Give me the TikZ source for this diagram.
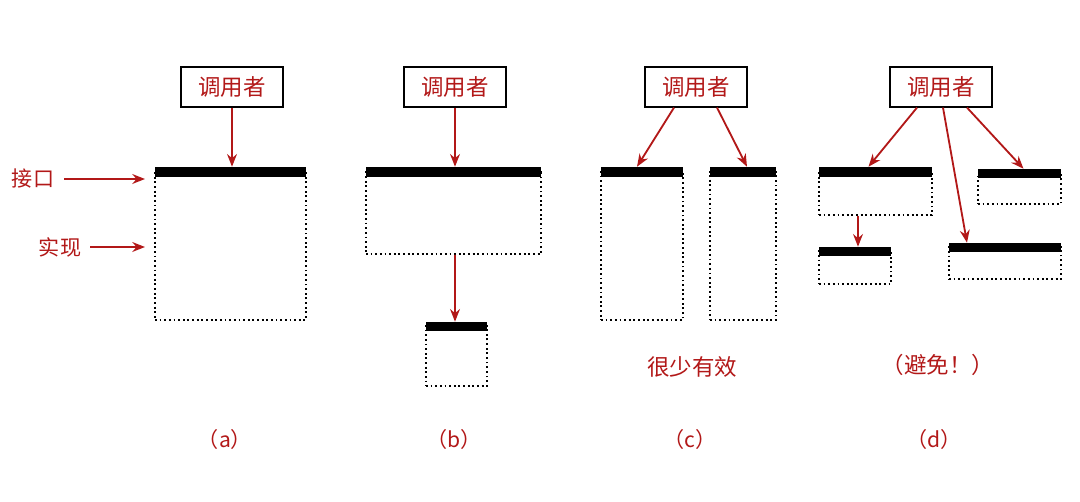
\documentclass[tikz,border=0pt]{standalone}
\usepackage{fontspec}
\newfontfamily\cjk{Noto Sans CJK SC}
\usetikzlibrary{arrows.meta,fit,calc}
\definecolor{callred}{RGB}{178,24,24}
\tikzset{
  caller/.style={draw=black, line width=1.3pt, text=callred, font=\cjk\fontsize{16}{16}\selectfont,
    minimum width=73pt, minimum height=28pt, inner sep=0pt},
  iface/.style={fill=black, inner sep=0pt},
  impl/.style={draw=black, line width=1.3pt, dash pattern=on 1.3pt off 2pt, inner sep=0pt},
  call/.style={draw=callred, line width=1.3pt, -{Stealth[length=9pt,width=7pt]}},
  note/.style={text=callred, font=\cjk\fontsize{16}{16}\selectfont},
  sub/.style={text=callred, font=\cjk\fontsize{15}{15}\selectfont},
}
\begin{document}
\begin{tikzpicture}[x=0.025cm, y=-0.025cm]
  \useasboundingbox (0,0) rectangle (1080,501);

  % (a) one interface, one implementation
  \node[caller] (ca) at (232,87) {调用者};
  \node[impl, fit={(155,172) (306,320)}] (ba) {};
  \node[iface, fit={(155,167) (306,177)}] (ia) {};
  \draw[call] (ca.south) -- (ca.south |- ia.north);

  \node[note, font=\cjk\fontsize{15}{15}\selectfont] (lj) at (33,179) {接口};
  \node[note, font=\cjk\fontsize{15}{15}\selectfont] (ls) at (60,247) {实现};
  \coordinate (pj) at (145,179);
  \coordinate (ps) at (145,247);
  \draw[call] (64,179) -- (pj);
  \draw[call] (90,247) -- (ps);

  % (b) layered
  \node[caller] (cb) at (455,87) {调用者};
  \node[impl, fit={(366,172) (541,254)}] (bb) {};
  \node[iface, fit={(366,167) (541,177)}] (ib) {};
  \node[impl, fit={(426,326) (487,386)}] (bb2) {};
  \node[iface, fit={(426,322) (487,331)}] (ib2) {};
  \draw[call] (cb.south) -- (cb.south |- ib.north);
  \draw[call] ($(bb.south)+(1.5,0)$) -- ($(ib2.north)+(-1.5,0)$);

  % (c) two side by side
  \node[caller] (cc) at (696,87) {调用者};
  \node[impl, fit={(601,172) (683,320)}] (bc1) {};
  \node[iface, fit={(601,167) (683,177)}] (ic1) {};
  \node[impl, fit={(710,172) (776,320)}] (bc2) {};
  \node[iface, fit={(710,167) (776,177)}] (ic2) {};
  \draw[call] ($(cc.south)+(-22,0)$) -- ($(ic1.north)+(-5,0)$);
  \draw[call] ($(cc.south)+(21,0)$) -- ($(ic2.north)+(4,0)$);
  \node[note] (nc) at (692,367) {很少有效};

  % (d) mixed
  \node[caller] (cd) at (941,87) {调用者};
  \node[impl, fit={(819,172) (932,215)}] (bd1) {};
  \node[iface, fit={(819,167) (932,177)}] (id1) {};
  \node[impl, fit={(819,251) (891,284)}] (bd2) {};
  \node[iface, fit={(819,247) (891,256)}] (id2) {};
  \node[impl, fit={(978,173) (1061,204)}] (bd3) {};
  \node[iface, fit={(978,169) (1061,178)}] (id3) {};
  \node[impl, fit={(949,247) (1061,279)}] (bd4) {};
  \node[iface, fit={(949,243) (1061,252)}] (id4) {};
  \draw[call] ($(cd.south)+(-24,0)$) -- ($(id1.north)+(-7,0)$);
  \draw[call] ($(cd.south)+(2,0)$) -- ($(id4.north)+(-38,0)$);
  \draw[call] ($(cd.south)+(26,0)$) -- ($(id3.north)+(4,0)$);
  \draw[call] ($(bd1.south)+(-17.5,0)$) -- ($(id2.north)+(3,0)$);
  \node[note] (nd) at (938,365) {（避免！）};

  % captions
  \node[sub] (sa) at (225,439) {（a）};
  \node[sub] (sb) at (454,439) {（b）};
  \node[sub] (sc) at (690,439) {（c）};
  \node[sub] (sd) at (934,439) {（d）};
\end{tikzpicture}
\end{document}
